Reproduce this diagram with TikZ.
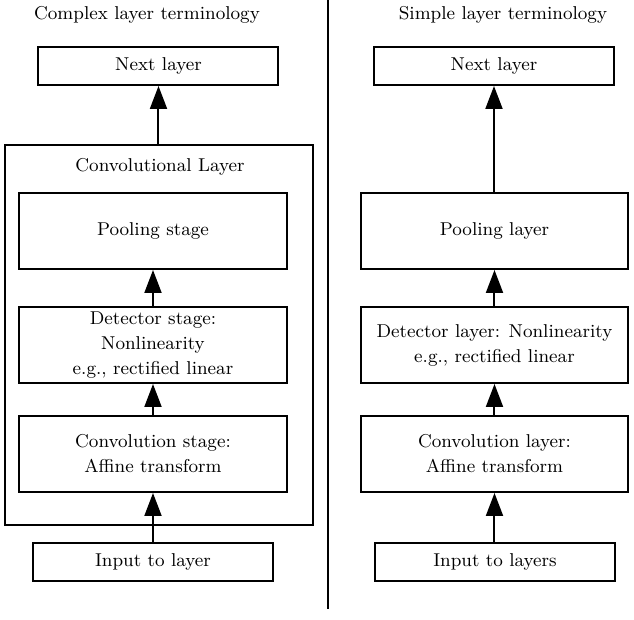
\documentclass[tikz,border=0pt]{standalone}
\usetikzlibrary{arrows.meta}
\begin{document}
\begin{tikzpicture}[x=0.5pt,y=-0.5pt,
  every node/.style={font=\fontsize{9.3}{12.5}\selectfont},
  box/.style={draw,line width=1pt,rectangle,inner sep=0pt,align=center},
  wide/.style={box,minimum width=134pt,minimum height=38pt},
  slim/.style={box,minimum width=120pt,minimum height=19pt},
  conn/.style={line width=1pt,-{Triangle[length=11.5pt,width=8.5pt]}}]
\useasboundingbox (0,0) rectangle (634,620);

% left column: complex terminology
\node (tl) at (147,15) {Complex layer terminology};
\node[slim] (nl) at (158.5,66) {Next layer};
\node[box,minimum width=154pt,minimum height=190pt] (cl) at (159,335) {};
\node (cllab) at (160,167) {Convolutional Layer};
\node[wide] (pl) at (153,231) {Pooling stage};
\node[wide] (dl) at (153,345) {Detector stage:\\Nonlinearity\\e.g., rectified linear};
\node[wide] (vl) at (153,454) {Convolution stage:\\Affine transform};
\node[slim] (il) at (153,562) {Input to layer};

\draw[conn] (cl.north -| nl.south) -- (nl.south);
\draw[conn] (dl.north) -- (pl.south);
\draw[conn] (vl.north) -- (dl.south);
\draw[conn] (il.north) -- (vl.south);

% divider
\coordinate (dtop) at (328,0);
\coordinate (dbot) at (328,609);
\draw[line width=1pt] (dtop) -- (dbot);

% right column: simple terminology
\node (tr) at (503,15) {Simple layer terminology};
\node[slim] (nr) at (494,66) {Next layer};
\node[wide,minimum width=133.5pt] (pr) at (494.5,231) {Pooling layer};
\node[wide,minimum width=133.5pt] (dr) at (494.5,345) {Detector layer: Nonlinearity\\e.g., rectified linear};
\node[wide,minimum width=133.5pt] (vr) at (494.5,454) {Convolution layer:\\Affine transform};
\node[slim] (ir) at (495,562) {Input to layers};

\draw[conn] (pr.north -| nr.south) -- (nr.south);
\draw[conn] (dr.north -| pr.south) -- (pr.south);
\draw[conn] (vr.north -| dr.south) -- (dr.south);
\draw[conn] (ir.north -| vr.south) -- (vr.south);
\end{tikzpicture}
\end{document}
